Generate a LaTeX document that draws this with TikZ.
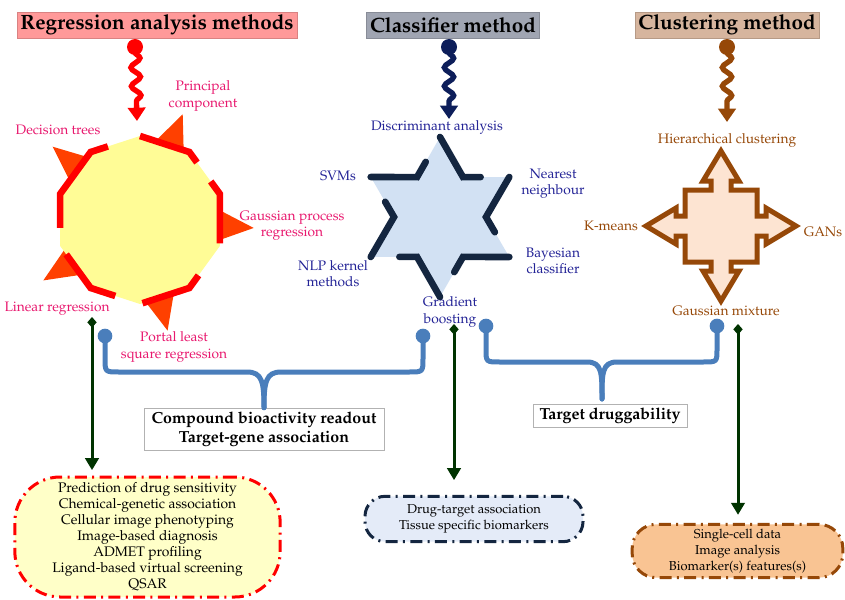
\documentclass[tikz,border=0pt]{standalone}
\usepackage[T1]{fontenc}
\usepackage{mathpazo}
\usetikzlibrary{arrows.meta, decorations.pathmorphing, calc}
\definecolor{regpink}{RGB}{255,153,153}
\definecolor{clsgray}{RGB}{160,165,178}
\definecolor{clutan}{RGB}{214,181,158}
\definecolor{sunyellow}{RGB}{255,252,150}
\definecolor{rayorange}{RGB}{255,64,0}
\definecolor{regtext}{RGB}{232,24,110}
\definecolor{starblue}{RGB}{210,225,243}
\definecolor{starnavy}{RGB}{20,38,64}
\definecolor{clstext}{RGB}{35,35,150}
\definecolor{arrnavy}{RGB}{13,30,90}
\definecolor{crossfill}{RGB}{253,228,210}
\definecolor{crossbrown}{RGB}{150,72,8}
\definecolor{bracblue}{RGB}{74,126,187}
\definecolor{leafgreen}{RGB}{0,51,0}
\definecolor{boxyellow}{RGB}{255,255,200}
\definecolor{boxblue}{RGB}{228,235,248}
\definecolor{boxpeach}{RGB}{249,196,147}

\begin{document}
\begin{tikzpicture}[
  x=0.75pt, y=-0.75pt,
  font=\fontsize{10.3}{12.2}\selectfont,
  titlebox/.style={fill=#1, draw=#1!85!black, line width=0.4pt, font=\fontsize{15.5}{17}\selectfont\bfseries,
    minimum height=19.5pt, inner xsep=2.5pt, inner ysep=0pt},
  wiggle/.style={draw=#1, line width=4pt, decorate,
    decoration={snake, amplitude=3.5pt, segment length=14pt, pre length=4pt, post length=10pt},
    -{Triangle[length=10pt, width=13pt]}},
  lbl/.style={text=#1, align=center, inner sep=1pt},
  sunedge/.style={draw=red, line width=5pt},
  starline/.style={draw=starnavy, line width=5pt, line cap=round},
  crossline/.style={draw=crossbrown, fill=crossfill, line width=3.75pt},
  brace/.style={draw=bracblue, line width=3.75pt, line cap=round},
  leaf/.style={draw=leafgreen, line width=2.25pt, {Diamond[length=8pt,width=7pt]}-{Triangle[length=9pt,width=10pt]}},
  outbox/.style={draw=gray!60, fill=white, font=\fontsize{12}{14}\selectfont\bfseries, align=center, inner sep=2pt},
  usebox/.style 2 args={draw=#1, fill=#2, line width=2.25pt, dash pattern=on 9pt off 4pt on 1.5pt off 4pt,
    align=center, font=\fontsize{9.7}{12}\selectfont},
]
\useasboundingbox (0,0) rectangle (845,599);

% titles
\node[titlebox=regpink, minimum width=208.5pt] (regtitle) at (157,25) {Regression analysis methods};
\node[titlebox=clsgray, minimum width=130pt] (clstitle) at (453,25) {Classifier method};
\node[titlebox=clutan, minimum width=136.5pt] (clutitle) at (727,25) {Clustering method};

% wiggly pointers
\coordinate (regwig) at (135,47);
\coordinate (regend) at (137,121);
\fill[red] (regwig) circle[radius=6pt];
\draw[wiggle=red] (regwig) -- (regend);
\coordinate (clswig) at (449,47);
\coordinate (clsend) at (449,119);
\fill[arrnavy] (clswig) circle[radius=6pt];
\draw[wiggle=arrnavy] (clswig) -- (clsend);
\coordinate (cluwig) at (727,47);
\coordinate (cluend) at (727,122);
\fill[crossbrown] (cluwig) circle[radius=6pt];
\draw[wiggle=crossbrown] (cluwig) -- (cluend);

% sun
\coordinate (sunc) at (140,220);
\foreach \a in {4,-68,-140,-212,-284}
  \fill[rayorange] ($(sunc)+(\a:114)$) -- ($(sunc)+(\a+17:70)$) -- ($(sunc)+(\a-17:70)$) -- cycle;
\foreach \k in {0,...,9}
  \coordinate (sv\k) at ($(sunc)+({-90+36*\k}:84)$);
\fill[sunyellow] (sv0) -- (sv1) -- (sv2) -- (sv3) -- (sv4) -- (sv5) -- (sv6) -- (sv7) -- (sv8) -- (sv9) -- cycle;
\draw[sunedge] (sv0) -- (sv1) -- ($(sv1)!0.25!(sv2)$);
\draw[sunedge] ($(sv1)!0.7!(sv2)$) -- (sv2) -- ($(sv2)!0.95!(sv3)$);
\draw[sunedge] ($(sv3)!0.7!(sv4)$) -- (sv4) -- ($(sv4)!0.95!(sv5)$);
\draw[sunedge] ($(sv7)!0.2!(sv6)$) -- (sv6) -- ($(sv6)!0.5!(sv5)$);
\draw[sunedge] ($(sv9)!0.35!(sv0)$) -- (sv9) -- (sv8) -- ($(sv8)!0.65!(sv7)$);

\node[lbl=regtext] (pcomp) at (203,96) {Principal\\component};
\node[lbl=regtext] (dtree) at (58,130) {Decision trees};
\node[lbl=regtext] (gproc) at (292,226) {Gaussian process\\regression};
\node[lbl=regtext] (linreg) at (57,309) {Linear regression};
\node[lbl=regtext] (plsq) at (174,347) {Portal least\\square regression};

% star
\coordinate (starc) at (440,217);
\foreach \k in {0,...,5} {
  \coordinate (so\k) at ($(starc)+({-90+60*\k}:80)$);
  \coordinate (si\k) at ($(starc)+({-60+60*\k}:46)$);
}
\fill[starblue] (so0) -- (si0) -- (so1) -- (si1) -- (so2) -- (si2) -- (so3) -- (si3) -- (so4) -- (si4) -- (so5) -- (si5) -- cycle;
\foreach \k/\n in {0/1,1/2,2/3,3/4,4/5,5/0}
  \draw[starline] (so\k) -- (si\k) -- ($(si\k)!0.38!(so\n)$);

\node[lbl=clstext] (discr) at (437,127) {Discriminant analysis};
\node[lbl=clstext] (svms) at (338,176) {SVMs};
\node[lbl=clstext] (nearn) at (553,184) {Nearest\\neighbour};
\node[lbl=clstext] (nlpk) at (333,274) {NLP kernel\\methods};
\node[lbl=clstext] (bayes) at (553,261) {Bayesian\\classifier};
\node[lbl=clstext] (gradb) at (450,312) {Gradient\\boosting};

% four-way arrow
\begin{scope}[shift={(721,226)}]
\draw[crossline] (-36,-36) -- (-10,-36) -- (-10,-45) -- (-18,-45) -- (0,-75) -- (18,-45) -- (10,-45) -- (10,-36)
  -- (36,-36) -- (36,-10) -- (45,-10) -- (45,-18) -- (75,0) -- (45,18) -- (45,10) -- (36,10)
  -- (36,36) -- (10,36) -- (10,45) -- (18,45) -- (0,75) -- (-18,45) -- (-10,45) -- (-10,36)
  -- (-36,36) -- (-36,10) -- (-45,10) -- (-45,18) -- (-75,0) -- (-45,-18) -- (-45,-10) -- (-36,-10) -- cycle;
\end{scope}

\node[lbl=crossbrown] (hclus) at (727,140) {Hierarchical clustering};
\node[lbl=crossbrown] (kmeans) at (611,226) {K-means};
\node[lbl=crossbrown] (gans) at (823,232) {GANs};
\node[lbl=crossbrown] (gmix) at (726,311) {Gaussian mixture};

% outcome boxes
\node[outbox, minimum width=180pt, minimum height=31.5pt] (cbox) at (264,429) {Compound bioactivity readout\\Target-gene association};
\node[outbox, minimum width=115.5pt, minimum height=17pt] (tbox) at (610,416) {Target druggability};

% braces
\coordinate (la) at (105,336);
\coordinate (lb) at (423,336);
\draw[brace] (la) -- (105,358) .. controls (105,372) .. (119,372) -- (247,372) .. controls +(15,0) and +(0,-26) .. (cbox.north);
\draw[brace] (lb) -- (423,358) .. controls (423,372) .. (409,372) -- (281,372) .. controls +(-15,0) and +(0,-26) .. (cbox.north);
\fill[bracblue] (la) circle[radius=5.5pt];
\fill[bracblue] (lb) circle[radius=5.5pt];

\coordinate (ra) at (486,326);
\coordinate (rb) at (717,326);
\coordinate (tspike) at (602,399);
\draw[brace] (ra) -- (486,349) .. controls (486,362) .. (500,362) -- (587,362) .. controls +(15,0) and +(0,-26) .. (tspike);
\draw[brace] (rb) -- (717,349) .. controls (717,362) .. (703,362) -- (617,362) .. controls +(-15,0) and +(0,-26) .. (tspike);
\fill[bracblue] (ra) circle[radius=5.5pt];
\fill[bracblue] (rb) circle[radius=5.5pt];

% application boxes
\node[usebox={red}{boxyellow}, minimum width=199pt, minimum height=90pt, rounded corners=34pt,
  font=\fontsize{10.4}{12}\selectfont] (lbox) at (147.5,537)
  {Prediction of drug sensitivity\\Chemical-genetic association\\Cellular image phenotyping\\Image-based diagnosis\\ADMET profiling\\Ligand-based virtual screening\\QSAR};
\node[usebox={starnavy}{boxblue}, minimum width=163.5pt, minimum height=34pt, rounded corners=15pt] (mbox) at (474,519)
  {Drug-target association\\Tissue specific biomarkers};
\node[usebox={crossbrown}{boxpeach}, minimum width=158pt, minimum height=40pt, rounded corners=18pt] (rbox) at (737.5,551)
  {Single-cell data\\Image analysis\\Biomarker(s) features(s)};

% leaf arrows
\coordinate (lleaf) at (92,317);
\coordinate (mleaf) at (454,324);
\coordinate (rleaf) at (738,324);
\draw[leaf, shorten >=4pt] (lleaf) -- (lleaf |- lbox.north);
\draw[leaf, shorten >=11pt] (mleaf) -- (mleaf |- mbox.north);
\draw[leaf, shorten >=6pt] (rleaf) -- (rleaf |- rbox.north);
\end{tikzpicture}
\end{document}
